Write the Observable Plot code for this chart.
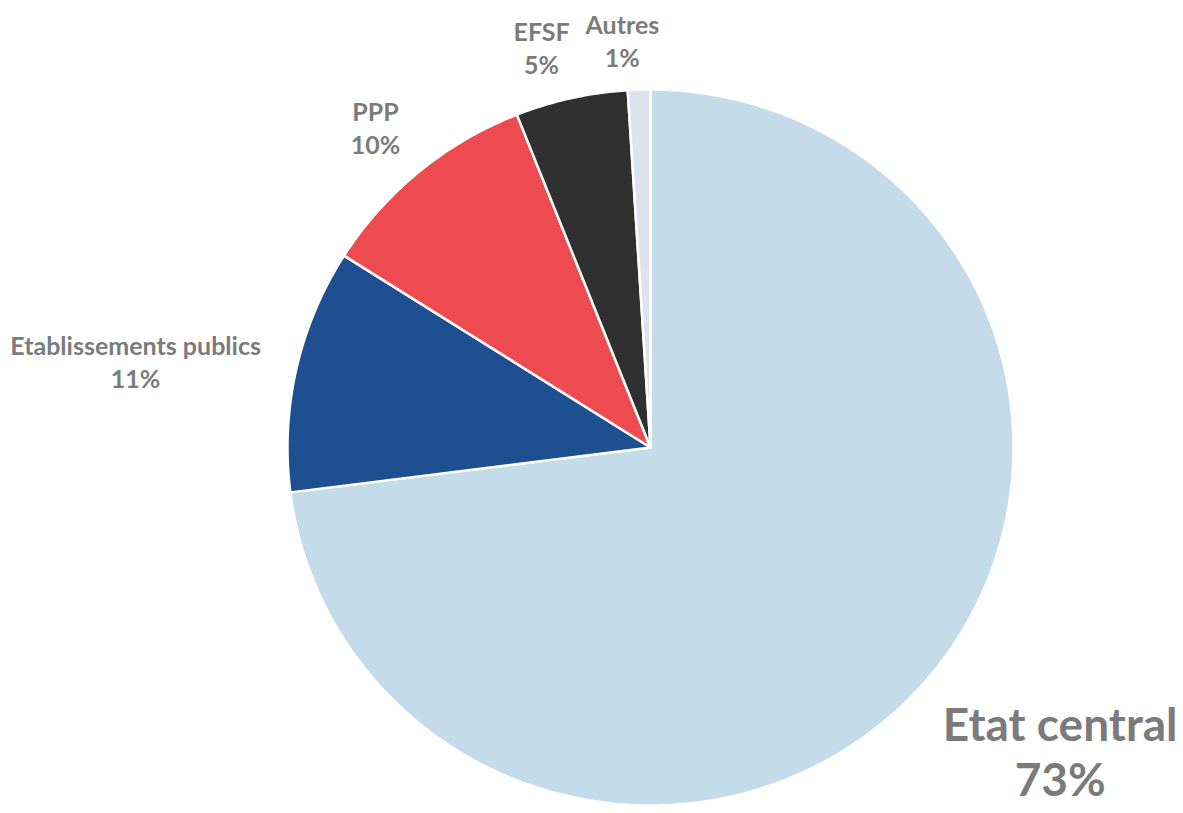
<!DOCTYPE html>
<html>
<head>
<meta charset="utf-8">
<script src="https://cdn.jsdelivr.net/npm/d3@7"></script>
<script src="https://cdn.jsdelivr.net/npm/@observablehq/plot@0.6"></script>
<style>
  html, body { margin: 0; padding: 0; background: #ffffff; overflow: hidden; }
  #chart svg { display: block; }
</style>
</head>
<body>
<div id="chart"></div>
<script>
// ---- data ----
const categories = ["Etat central", "Etablissements publics", "PPP", "EFSF", "Autres"];
const shares = [73, 11, 10, 5, 1];
const colors = ["#c4dbea", "#1e4f90", "#ee4b50", "#303030", "#dde3ea"];

// ---- layout (label placement relative to slice mid-angle) ----
const labelRadius = [1.405, 1.439, 1.174, 1.159, 1.14];
const labelAngleShift = [-3.0, -2.9, -0.6, -2.4, -2.1]; // degrees

const W = 1183, H = 813;
const cxPx = 650, cyPx = 447, rxPx = 363, ryPx = 358;

const total = d3.sum(shares);
let acc = 0;
const slices = categories.map((name, i) => {
  const a0 = acc / total * 2 * Math.PI;
  acc += shares[i];
  const a1 = acc / total * 2 * Math.PI;
  return {name, value: shares[i], a0, a1, i};
});

// Build polygon vertices for each slice (angle measured clockwise from 12 o'clock)
const polyPoints = [];
for (const s of slices) {
  polyPoints.push({name: s.name, x: 0, y: 0});
  const n = Math.max(2, Math.ceil((s.a1 - s.a0) / (Math.PI / 360)));
  for (let k = 0; k <= n; ++k) {
    const a = s.a0 + (s.a1 - s.a0) * k / n;
    polyPoints.push({name: s.name, x: Math.sin(a), y: Math.cos(a)});
  }
  polyPoints.push({name: s.name, x: 0, y: 0});
}

const labelData = slices.map(s => {
  const mid = (s.a0 + s.a1) / 2 + labelAngleShift[s.i] * Math.PI / 180;
  const k = labelRadius[s.i];
  return {name: s.name, text: `${s.name}\n${s.value}%`, x: k * Math.sin(mid), y: k * Math.cos(mid), big: s.i === 0};
});

const chart = Plot.plot({
  width: W,
  height: H,
  margin: 0,
  style: {background: "#ffffff"},
  x: {domain: [-cxPx / rxPx, (W - cxPx) / rxPx], axis: null},
  y: {domain: [(cyPx - H) / ryPx, cyPx / ryPx], axis: null},
  color: {domain: categories, range: colors},
  marks: [
    Plot.line(polyPoints, {
      x: "x", y: "y", z: "name", fill: "name",
      stroke: "#ffffff", strokeWidth: 2.5, strokeLinejoin: "round", curve: "linear"
    }),
    Plot.text(labelData.filter(d => !d.big), {
      x: "x", y: "y", text: "text",
      fontFamily: "Lato", fontWeight: "bold", fontSize: 25,
      fill: "#7b7b7b", lineHeight: 1.32, lineAnchor: "middle", textAnchor: "middle"
    }),
    Plot.text(labelData.filter(d => d.big), {
      x: "x", y: "y", text: "text", dx: 10, dy: -9,
      fontFamily: "Lato", fontWeight: "bold", fontSize: 46,
      fill: "#7b7b7b", lineHeight: 1.2, lineAnchor: "middle", textAnchor: "middle"
    })
  ]
});
document.getElementById("chart").append(chart);
</script>
</body>
</html>
